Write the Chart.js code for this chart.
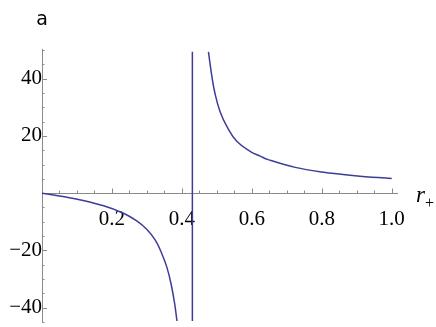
<!DOCTYPE html>
<html><head><meta charset="utf-8">
<script src="https://cdn.jsdelivr.net/npm/chart.js@4.4.1/dist/chart.umd.min.js"></script>
<style>html,body{margin:0;padding:0;background:#fff;overflow:hidden}</style>
</head><body>
<canvas id="c" width="436" height="327"></canvas>
<script>
// ---- data ----
const leftR = [0, 0.0905, 0.176, 0.233, 0.271, 0.300, 0.324, 0.343, 0.357, 0.369, 0.379, 0.386];
const leftA = [0, -1.86, -4.4, -7.0, -9.7, -12.7, -16.4, -21.2, -25.8, -31.6, -38.3, -44.6];
const asymR = [0.43, 0.43];
const asymA = [-44.6, 49.3];
const rightR = [0.476, 0.486, 0.495, 0.509, 0.529, 0.557, 0.595, 0.624, 0.647, 0.724, 0.8, 0.895, 1.0];
const rightA = [49.3, 40.6, 34.6, 28.5, 23.2, 18.1, 14.6, 12.9, 11.7, 9.0, 7.4, 6.1, 5.1];

const xTickValues = [0.2, 0.4, 0.6, 0.8, 1.0];
const xTickLabels = ['0.2', '0.4', '0.6', '0.8', '1.0'];
const yTickValues = [-40, -20, 20, 40];
const yTickLabels = ['\u221240', '\u221220', '20', '40'];
const xMinorStep = 0.05;
const yMinorStep = 5;
const xAxisLabel = 'r';
const xAxisLabelSub = '+';
const yAxisLabel = 'a';

const lineColor = '#3d3d99';
const axisColor = '#8a8a8a';
const tickFont = {family: '"Liberation Serif", "Times New Roman", serif', size: 21};

const pts = (xs, ys) => xs.map((x, i) => ({x: x, y: ys[i]}));
const noPad = s => { s.paddingTop = 0; s.paddingBottom = 0; s.paddingLeft = 0; s.paddingRight = 0; };

const mmaAxes = {
  id: 'mmaAxes',
  beforeDatasetsDraw(chart) {
    const ctx = chart.ctx, xs = chart.scales.x, ys = chart.scales.y;
    const x0 = xs.getPixelForValue(0), y0 = ys.getPixelForValue(0);
    ctx.save();
    ctx.strokeStyle = axisColor;
    ctx.lineWidth = 1;
    ctx.beginPath();
    ctx.moveTo(x0, Math.round(y0) + 0.5);
    ctx.lineTo(xs.getPixelForValue(xs.max), Math.round(y0) + 0.5);
    ctx.moveTo(Math.round(x0) + 0.5, ys.getPixelForValue(ys.max));
    ctx.lineTo(Math.round(x0) + 0.5, ys.getPixelForValue(ys.min));
    for (let k = 1; k * xMinorStep <= xs.max + 1e-9; k++) {
      const v = k * xMinorStep;
      const major = xTickValues.some(t => Math.abs(t - v) < 1e-6);
      const px = Math.round(xs.getPixelForValue(v)) + 0.5;
      ctx.moveTo(px, Math.round(y0));
      ctx.lineTo(px, Math.round(y0) - (major ? 4.5 : 2.5));
    }
    for (let v = Math.ceil(ys.min / yMinorStep) * yMinorStep; v <= ys.max + 1e-9; v += yMinorStep) {
      if (Math.abs(v) < 1e-9) continue;
      const major = yTickValues.some(t => Math.abs(t - v) < 1e-6);
      const py = Math.round(ys.getPixelForValue(v)) + 0.5;
      ctx.moveTo(Math.round(x0), py);
      ctx.lineTo(Math.round(x0) + (major ? 5 : 2.5), py);
    }
    ctx.stroke();
    ctx.restore();
  },
  afterDraw(chart) {
    const ctx = chart.ctx, xs = chart.scales.x, ys = chart.scales.y;
    ctx.save();
    ctx.fillStyle = '#000';
    ctx.textBaseline = 'alphabetic';
    ctx.font = '19px "DejaVu Sans", sans-serif';
    ctx.textAlign = 'center';
    ctx.fillText(yAxisLabel, xs.getPixelForValue(0), 25);
    const xe = xs.getPixelForValue(xs.max) + 18;
    const yb = ys.getPixelForValue(0) + 9;
    ctx.textAlign = 'left';
    ctx.font = 'italic 23px "Liberation Serif", serif';
    ctx.fillText(xAxisLabel, xe, yb);
    const w = ctx.measureText(xAxisLabel).width;
    ctx.font = '16px "Liberation Serif", serif';
    ctx.fillText(xAxisLabelSub, xe + w, yb + 6);
    ctx.restore();
  }
};

new Chart(document.getElementById('c'), {
  type: 'line',
  data: {
    datasets: [
      {data: pts(leftR, leftA)},
      {data: pts(asymR, asymA), tension: 0},
      {data: pts(rightR, rightA)}
    ]
  },
  options: {
    responsive: false,
    animation: false,
    devicePixelRatio: 1,
    layout: {padding: {left: 42, right: 38, top: 49, bottom: 4}},
    plugins: {legend: {display: false}, tooltip: {enabled: false}},
    elements: {
      point: {radius: 0},
      line: {borderColor: lineColor, borderWidth: 1.5, tension: 0.4, fill: false}
    },
    scales: {
      x: {
        type: 'linear', min: 0, max: 1.018,
        position: {y: 0},
        grid: {display: false, drawTicks: true, tickLength: 10},
        border: {display: false},
        afterBuildTicks: s => { s.ticks = xTickValues.map(v => ({value: v})); },
        afterFit: noPad,
        ticks: {font: tickFont, color: '#000', padding: 4, maxRotation: 0, autoSkip: false,
                callback: (v, i) => xTickLabels[i]}
      },
      y: {
        type: 'linear', min: -45.3, max: 50.3,
        position: {x: 0},
        grid: {display: false, drawTicks: true, tickLength: 6},
        border: {display: false},
        afterBuildTicks: s => { s.ticks = yTickValues.map(v => ({value: v})); },
        afterFit: noPad,
        ticks: {font: tickFont, color: '#000', padding: 2, autoSkip: false,
                callback: (v, i) => yTickLabels[i]}
      }
    }
  },
  plugins: [mmaAxes]
});
</script>
</body></html>
